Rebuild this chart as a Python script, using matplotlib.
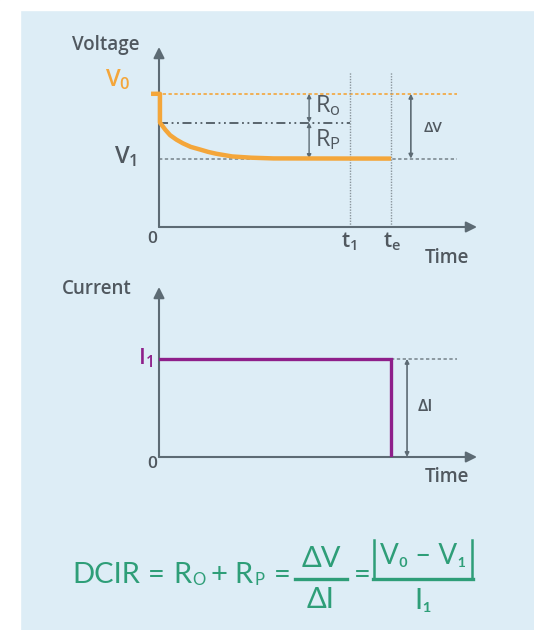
import numpy as np
import matplotlib.pyplot as plt
from matplotlib.lines import Line2D
from matplotlib.patches import Rectangle

plt.rcParams['font.family'] = ['Open Sans', 'DejaVu Sans']

# voltage response (arbitrary units)
t_volt = [-0.25, 0.03, 0.03, 0.2, 0.35, 0.55, 0.75, 1.0, 1.3, 1.55, 1.8, 2.3, 2.9, 3.6, 7.3]
v_volt = [7.4, 7.4, 5.8, 5.4, 5.1, 4.85, 4.65, 4.45, 4.3, 4.17, 4.07, 3.92, 3.85, 3.81, 3.8]
V0 = 7.4
Vo = 5.8   # level after the ohmic drop
V1 = 3.8
t1 = 6.0
te = 7.3
t_end = 9.37

# current step
t_curr = [0, te, te]
i_curr = [5.45, 5.45, 0]
I1 = 5.45

bg = '#ddedf6'
axc = '#5d6b74'
txt = '#50585f'
orange = '#f4a63a'
purple = '#8e1f8a'
green = '#2e9e78'

W, H = 534, 630
fig = plt.figure(figsize=(W / 100, H / 100), dpi=100, facecolor=bg)
# white margins on the left and top
fig.add_artist(Rectangle((0, 0), 20 / W, 1, transform=fig.transFigure, color='white', zorder=-10))
fig.add_artist(Rectangle((0, 1 - 10 / H), 1, 10 / H, transform=fig.transFigure, color='white', zorder=-10))


def px(x, y):
    return x / W, 1 - y / H


def setup(ax, ytop):
    ax.set_xlim(0, 10)
    ax.set_ylim(0, ytop)
    ax.patch.set_alpha(0)
    for s in ax.spines.values():
        s.set_visible(False)
    ax.set_xticks([])
    ax.set_yticks([])
    ap = dict(arrowstyle='-|>', color=axc, lw=1.5, mutation_scale=16, shrinkA=0, shrinkB=0)
    ax.annotate('', xy=(1, 0), xytext=(0, 0), xycoords='axes fraction', arrowprops=ap)
    ax.annotate('', xy=(0, 1), xytext=(0, 0), xycoords='axes fraction', arrowprops=ap)


def dbl_arrow(ax, x, y0, y1, lw=1.0):
    ax.annotate('', xy=(x, y1), xytext=(x, y0),
                arrowprops=dict(arrowstyle='<|-|>', color=axc, lw=lw,
                                mutation_scale=6, shrinkA=0, shrinkB=0))


# ---- voltage panel
ax1 = fig.add_axes([159 / W, 1 - 227 / H, 318 / W, 180 / H])
setup(ax1, 10)
ax1.plot([-0.25, t_end], [V0, V0], color=orange, ls=(0, (2, 1.5)), lw=1.2, clip_on=False)
ax1.plot([0, t_end], [V1, V1], color='#7d8a92', ls=(0, (2, 1.5)), lw=1.2)
ax1.plot([0, t1], [Vo, Vo], color='#4f5a62', ls=(0, (5, 2, 1, 2, 1, 2)), lw=1.3)
for t in (t1, te):
    ax1.plot([t, t], [0, 8.6], color='#8a959c', ls=(0, (1, 1)), lw=1.0)
ax1.plot(t_volt, v_volt, color=orange, lw=3.2, solid_capstyle='butt', clip_on=False, zorder=5)
dbl_arrow(ax1, 4.72, V0, Vo)
dbl_arrow(ax1, 4.72, Vo, V1)
dbl_arrow(ax1, 7.92, V0, V1, lw=1.2)

# ---- current panel
ax2 = fig.add_axes([159 / W, 1 - 457 / H, 318 / W, 170 / H])
setup(ax2, 9.44)
ax2.plot([te, t_end], [I1, I1], color='#7d8a92', ls=(0, (2, 1.5)), lw=1.2)
ax2.plot(t_curr, i_curr, color=purple, lw=2.4, solid_joinstyle='miter', zorder=5)
dbl_arrow(ax2, 7.8, I1, 0, lw=1.2)

# ---- labels
def label(x, y, s, size, color=txt, ha='center', weight='semibold', **kw):
    fig.text(*px(x, y), s, size=size, color=color, ha=ha, va='center',
             weight=weight, **kw)

label(106, 45, 'Voltage', 13.5)
label(118, 80, r'$\mathregular{V_0}$', 17, color=orange)
label(126, 157, r'$\mathregular{V_1}$', 17)
label(152, 239, '0', 12.5)
label(349, 242, r'$\mathregular{t_1}$', 15)
label(392, 242, r'$\mathregular{t_e}$', 15)
label(447, 258, 'Time', 13.5)
label(315, 106, r'$\mathregular{R_o}$', 17, ha='left', weight='normal')
label(315, 140, r'$\mathregular{R_P}$', 17, ha='left', weight='normal')
label(433, 128, 'ΔV', 11)

label(97, 289, 'Current', 13.5)
label(145, 358, r'$\mathregular{I_1}$', 16, color=purple)
label(152, 464, '0', 12.5)
label(447, 477, 'Time', 13.5)
label(425, 407, 'ΔI', 12)

# ---- formula
fs = 21
fw = 'normal'
label(72, 575, 'DCIR', fs, color=green, ha='left', weight=fw, family='Lato')
label(156, 575, '=', fs, color=green, weight=fw, family='Lato')
label(173, 575, 'R', fs, color=green, ha='left', weight=fw, family='Lato')
label(192, 580, 'O', 12, color=green, ha='left', weight=fw, family='Lato')
label(219, 575, '+', fs, color=green, weight=fw, family='Lato')
label(234, 575, 'R', fs, color=green, ha='left', weight=fw, family='Lato')
label(254, 580, 'P', 12, color=green, ha='left', weight=fw, family='Lato')
label(282, 575, '=', fs, color=green, weight=fw, family='Lato')
label(321, 559, 'ΔV', fs, color=green, weight=fw, family='Lato')
label(321, 600, 'ΔI', fs, color=green, weight=fw, family='Lato')
label(362, 575, '=', fs, color=green, weight=fw, family='Lato')
label(423, 556, 'V₀ – V₁', 20, color=green, weight=fw, family=['Lato', 'DejaVu Sans'])
label(423, 601, 'I₁', fs, color=green, weight=fw, family=['Lato', 'DejaVu Sans'])
fig.add_artist(Line2D([295 / W, 347 / W], [1 - 579 / H] * 2, color=green, lw=2.4))
fig.add_artist(Line2D([373 / W, 473 / W], [1 - 579 / H] * 2, color=green, lw=2.4))
fig.add_artist(Line2D([374 / W] * 2, [1 - 540 / H, 1 - 579 / H], color=green, lw=1.8))
fig.add_artist(Line2D([472 / W] * 2, [1 - 540 / H, 1 - 579 / H], color=green, lw=1.8))

fig.savefig('out.png', dpi=100, facecolor=bg)
